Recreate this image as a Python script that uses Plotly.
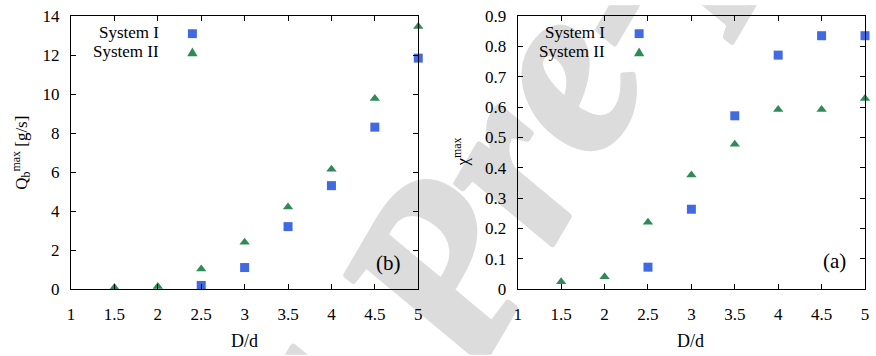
import base64
import plotly.graph_objects as go

# ---------------- data ----------------
x_ratio = [1.5, 2.0, 2.5, 3.0, 3.5, 4.0, 4.5, 5.0]

# panel (b): Q_b^max [g/s]
qb_sys1_x = [2.5, 3.0, 3.5, 4.0, 4.5, 5.0]
qb_sys1 = [0.18, 1.1, 3.2, 5.3, 8.3, 11.84]
qb_sys2 = [0.08, 0.13, 1.02, 2.4, 4.2, 6.14, 9.77, 13.46]

# panel (a): chi^max
chi_sys1_x = [2.5, 3.0, 3.5, 4.0, 4.5, 5.0]
chi_sys1 = [0.072, 0.263, 0.571, 0.771, 0.835, 0.835]
chi_sys2 = [0.024, 0.04, 0.22, 0.376, 0.477, 0.592, 0.592, 0.628]

series_names = ["System I", "System II"]
x_ticks = [1, 1.5, 2, 2.5, 3, 3.5, 4, 4.5, 5]

BLUE = "#4169E1"
GREEN = "#2E8B57"
FONT = "Liberation Serif"

W, H = 876, 356
ML, MR, MT, MB = 71, 7, 11, 67
PW = W - ML - MR
PH = H - MT - MB


def pxx(px):
    return (px - ML) / PW


def pxy(py):
    return (H - MB - py) / PH


fig = go.Figure()

fig.add_trace(go.Scatter(x=qb_sys1_x, y=qb_sys1, mode="markers", name=series_names[0],
                         marker=dict(symbol="square", size=9, color=BLUE, line=dict(width=0)),
                         xaxis="x", yaxis="y", cliponaxis=False, showlegend=False))
fig.add_trace(go.Scatter(x=x_ratio, y=qb_sys2, mode="markers", name=series_names[1],
                         marker=dict(symbol="triangle-up", size=9, color=GREEN, line=dict(width=0)),
                         xaxis="x", yaxis="y", cliponaxis=False, showlegend=False))
fig.add_trace(go.Scatter(x=chi_sys1_x, y=chi_sys1, mode="markers", name=series_names[0],
                         marker=dict(symbol="square", size=9, color=BLUE, line=dict(width=0)),
                         xaxis="x2", yaxis="y2", cliponaxis=False, showlegend=False))
fig.add_trace(go.Scatter(x=x_ratio, y=chi_sys2, mode="markers", name=series_names[1],
                         marker=dict(symbol="triangle-up", size=9, color=GREEN, line=dict(width=0)),
                         xaxis="x2", yaxis="y2", cliponaxis=False, showlegend=False))

axis_common = dict(showline=True, linecolor="black", linewidth=1.2, mirror="ticks",
                   ticks="inside", ticklen=5, tickwidth=1.2, tickcolor="black",
                   showgrid=False, zeroline=False,
                   tickfont=dict(family=FONT, size=17, color="black"))

xd1 = [0, pxx(420)]
xd2 = [pxx(520), 1]

fig.update_layout(
    width=W, height=H,
    margin=dict(l=ML, r=MR, t=MT, b=MB, pad=0),
    paper_bgcolor="white", plot_bgcolor="rgba(0,0,0,0)",
    font=dict(family=FONT, size=17, color="black"),
    showlegend=False,
    xaxis=dict(domain=xd1, range=[1, 5], tickvals=x_ticks, anchor="y",
               ticklabelstandoff=9, **axis_common),
    yaxis=dict(domain=[0, 1], range=[0, 14], dtick=2, anchor="x",
               ticklabelstandoff=7, **axis_common),
    xaxis2=dict(domain=xd2, range=[1, 5], tickvals=x_ticks, anchor="y2",
                ticklabelstandoff=9, **axis_common),
    yaxis2=dict(domain=[0, 1], range=[0, 0.9], dtick=0.1, anchor="x2",
                ticklabelstandoff=7, **axis_common),
)


def label(text, px, py, size, angle=0, xanchor="center"):
    return dict(text=text, x=pxx(px), y=pxy(py), xref="paper", yref="paper",
                xanchor=xanchor, yanchor="middle", showarrow=False, textangle=angle,
                font=dict(family=FONT, size=size, color="black"))


ann = [
    label("D/d", 245, 342, 18),
    label("D/d", 694, 342, 18),
    label("Q<sub>b</sub><sup>max</sup> [g/s]", 21, 150, 17, angle=-90),
    label("χ<sup>max</sup>", 462, 150, 17, angle=-90),
    label("(b)", 390, 263, 21),
    label("(a)", 838, 260, 21),
]

shapes = []
# legend (gnuplot style: text then key to the right)
for text_right, key_x in [(161, 193), (610, 642)]:
    for i, (name, cy) in enumerate(zip(series_names, [29, 48.5])):
        ann.append(label(name, text_right, cy - 1.5, 17, xanchor="right"))
        if i == 0:
            shapes.append(dict(type="rect", xref="paper", yref="paper",
                               x0=pxx(key_x - 4.5), x1=pxx(key_x + 4.5),
                               y0=pxy(cy + 4.5), y1=pxy(cy - 4.5),
                               fillcolor=BLUE, line=dict(width=0)))
        else:
            p = (f"M {pxx(key_x - 5.2)},{pxy(cy + 3.4)} L {pxx(key_x + 5.2)},{pxy(cy + 3.4)} "
                 f"L {pxx(key_x)},{pxy(cy - 5.3)} Z")
            shapes.append(dict(type="path", xref="paper", yref="paper", path=p,
                               fillcolor=GREEN, line=dict(width=0)))

fig.update_layout(annotations=ann, shapes=shapes)

# light-grey "Journal Pre-proof" watermark behind the plot
ox, oy, ang, fs = 476, 380, -60, 250
svg = f'''<svg xmlns="http://www.w3.org/2000/svg" width="{W}" height="{H}" viewBox="0 0 {W} {H}">
<g transform="translate({ox},{oy}) rotate({ang})" font-family="Liberation Serif" font-weight="bold" font-style="italic" font-size="{fs}" fill="#dcdcdc" stroke="#dcdcdc" stroke-width="6" stroke-linejoin="round">
<text x="0" y="0">Pre-proof</text>
<text x="{-0.25 * fs}" y="0" text-anchor="end">Journal</text>
</g></svg>'''
src = "data:image/svg+xml;base64," + base64.b64encode(svg.encode("utf-8")).decode("ascii")
fig.add_layout_image(dict(source=src, xref="paper", yref="paper",
                          x=pxx(0), y=pxy(0), sizex=W / PW, sizey=H / PH,
                          xanchor="left", yanchor="top", sizing="stretch", layer="below"))

fig.write_html("out.html", config={"displayModeBar": False},
               post_script="document.body.style.margin='0';document.body.style.overflow='hidden';")
